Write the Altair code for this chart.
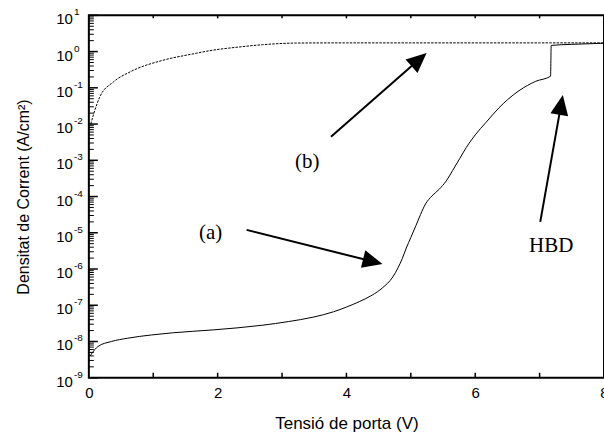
import math
import altair as alt
import pandas as pd

# ---------------- data ----------------
# curve (a): gate voltage (V) and log10 of current density (A/cm^2)
a_x = [0.02, 0.05, 0.14, 0.35, 0.6, 0.97, 1.3, 1.93, 2.7, 3.1, 3.48, 3.8, 4.0, 4.2, 4.4,
       4.56, 4.72, 4.8, 4.87, 4.93, 5.0, 5.08, 5.15, 5.23, 5.33, 5.44, 5.55, 5.65, 5.76,
       5.86, 6.0, 6.17, 6.37, 6.5, 6.68, 6.94, 7.17, 7.18, 7.5, 8.0]
a_logy = [-8.4, -8.32, -8.14, -8.0, -7.91, -7.82, -7.76, -7.68, -7.55, -7.45, -7.33, -7.18,
          -7.05, -6.9, -6.72, -6.52, -6.22, -5.97, -5.7, -5.42, -5.13, -4.8, -4.5, -4.2,
          -3.98, -3.8, -3.57, -3.28, -2.95, -2.65, -2.3, -1.95, -1.55, -1.33, -1.08, -0.82,
          -0.68, 0.17, 0.2, 0.23]

# curve (b)
b_x = [0.03, 0.07, 0.17, 0.38, 0.64, 1.15, 1.6, 1.93, 2.3, 2.7, 3.22, 4.0, 5.0, 6.0, 7.0, 8.0]
b_logy = [-2.0, -1.75, -1.25, -0.84, -0.56, -0.24, -0.07, 0.04, 0.12, 0.19, 0.235, 0.24,
          0.24, 0.24, 0.24, 0.24]

# annotation labels
note_text = ["(a)", "(b)", "HBD"]
note_x = [1.89, 3.39, 7.18]
note_logy = [-5.0, -3.05, -5.36]

# arrows: start -> tip
arrow_x1 = [2.45, 3.76, 7.01]
arrow_logy1 = [-4.92, -2.35, -4.70]
arrow_x2 = [4.56, 5.245, 7.36]
arrow_logy2 = [-5.86, -0.04, -1.20]

# axis ticks / labels
x_label_values = [0, 2, 4, 6, 8]
x_tick_values = [1, 2, 3, 4, 5, 6, 7]
y_exponents = list(range(1, -10, -1))

# ---------------- layout ----------------
W, H = 516, 363
X_DOM = [0, 8]
Y_DOM = [1e-9, 10]
PX_PER_X = W / (X_DOM[1] - X_DOM[0])
PX_PER_DEC = H / 10.0

xs = alt.Scale(domain=X_DOM, nice=False, zero=False)
ys = alt.Scale(type="log", domain=Y_DOM, nice=False)

df_a = pd.DataFrame({"x": a_x, "y": [10 ** v for v in a_logy], "i": range(len(a_x))})
df_b = pd.DataFrame({"x": b_x, "y": [10 ** v for v in b_logy], "i": range(len(b_x))})

df_notes = pd.DataFrame({"x": note_x, "y": [10 ** v for v in note_logy], "t": note_text})

rows = []
for x1, l1, x2, l2 in zip(arrow_x1, arrow_logy1, arrow_x2, arrow_logy2):
    dxp = (x2 - x1) * PX_PER_X
    dyp = (l2 - l1) * PX_PER_DEC  # upward positive
    ang = math.degrees(math.atan2(dxp, dyp)) % 360
    length = math.hypot(dxp, dyp)
    f = 1 - 10 / length
    rows.append({"x1": x1, "y1": 10 ** l1,
                 "xe": x1 + (x2 - x1) * f, "ye": 10 ** (l1 + (l2 - l1) * f),
                 "x2": x2, "y2": 10 ** l2, "ang": ang})
df_arrows = pd.DataFrame(rows)

major_vals = [10.0 ** e for e in y_exponents]
minor_vals = [m * 10.0 ** k for k in range(-9, 1) for m in range(2, 10)]
df_major = pd.DataFrame({"v": major_vals})
df_minor = pd.DataFrame({"v": minor_vals})
df_xt = pd.DataFrame({"v": x_tick_values})
df_ylab = pd.DataFrame({"v": major_vals, "e": [str(e) for e in y_exponents]})

FONT = "Liberation Sans"
SERIF = "Liberation Serif"

line_a = alt.Chart(df_a).mark_line(color="black", strokeWidth=1, interpolate="monotone").encode(
    x=alt.X("x:Q", scale=xs, axis=alt.Axis(
        values=x_label_values, format="d", ticks=False, domain=False, grid=False,
        labelFlush=False, labelFontSize=15, labelFont=FONT, labelColor="black",
        labelPadding=8, title="Tensió de porta (V)", titleFont=FONT, titleFontSize=17,
        titleFontWeight="normal", titleColor="black", titlePadding=15)),
    y=alt.Y("y:Q", scale=ys, axis=alt.Axis(
        labels=False, ticks=False, domain=False, grid=False,
        title="Densitat de Corrent (A/cm²)", titleFont=FONT, titleFontSize=16,
        titleFontWeight="normal", titleColor="black", titlePadding=57)),
    order=alt.Order("i:Q"),
)

line_b = alt.Chart(df_b).mark_line(color="black", strokeWidth=1, strokeDash=[2.5, 1.2],
                                   interpolate="monotone").encode(
    x=alt.X("x:Q", scale=xs), y=alt.Y("y:Q", scale=ys), order=alt.Order("i:Q"))

maj_ticks = alt.Chart(df_major).mark_rule(color="black", strokeWidth=1.5).encode(
    y=alt.Y("v:Q", scale=ys), x=alt.value(0), x2=alt.value(9))
min_ticks = alt.Chart(df_minor).mark_rule(color="black", strokeWidth=1).encode(
    y=alt.Y("v:Q", scale=ys), x=alt.value(0), x2=alt.value(5))
bot_ticks = alt.Chart(df_xt).mark_rule(color="black", strokeWidth=1.5).encode(
    x=alt.X("v:Q", scale=xs), y=alt.value(H), y2=alt.value(H - 5))
top_ticks = alt.Chart(df_xt).mark_rule(color="black", strokeWidth=1.5).encode(
    x=alt.X("v:Q", scale=xs), y=alt.value(0), y2=alt.value(3))

ylab_base = alt.Chart(df_ylab).mark_text(
    text="10", align="right", baseline="middle", dy=4, font=FONT, fontSize=15, color="black"
).encode(y=alt.Y("v:Q", scale=ys), x=alt.value(-16))
ylab_exp = alt.Chart(df_ylab).mark_text(
    align="left", baseline="middle", dy=-3, font=FONT, fontSize=10, color="black"
).encode(y=alt.Y("v:Q", scale=ys), x=alt.value(-15), text="e:N")

notes = alt.Chart(df_notes).mark_text(
    font=SERIF, fontSize=21, color="black", align="center", baseline="middle"
).encode(x=alt.X("x:Q", scale=xs), y=alt.Y("y:Q", scale=ys), text="t:N")

arrow_lines = alt.Chart(df_arrows).mark_rule(color="black", strokeWidth=2).encode(
    x=alt.X("x1:Q", scale=xs), y=alt.Y("y1:Q", scale=ys), x2="xe:Q", y2="ye:Q")
arrow_heads = alt.Chart(df_arrows).mark_point(
    shape="M0,0L0.9,2L-0.9,2Z", filled=True, color="black", opacity=1, size=400, strokeWidth=0
).encode(x=alt.X("x2:Q", scale=xs), y=alt.Y("y2:Q", scale=ys), angle=alt.Angle("ang:Q", scale=None))

chart = alt.layer(
    min_ticks, maj_ticks, bot_ticks, top_ticks, line_b, line_a,
    ylab_base, ylab_exp, notes, arrow_lines, arrow_heads
).properties(
    width=W, height=H,
    autosize=alt.AutoSizeParams(type="none"),
    padding={"left": 89, "top": 15, "right": 0, "bottom": 61},
    background="white",
).configure_view(stroke="black", strokeWidth=2)

chart.save("out.html", embed_options={"renderer": "svg", "actions": False})
